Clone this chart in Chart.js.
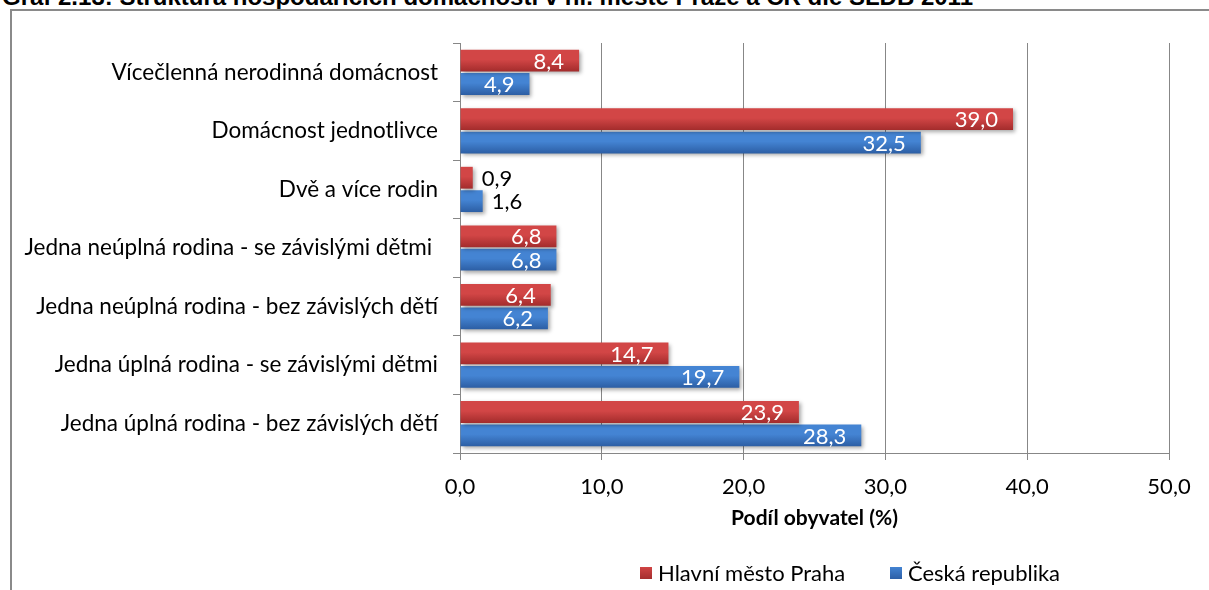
<!DOCTYPE html>
<html>
<head>
<meta charset="utf-8">
<script src="https://cdn.jsdelivr.net/npm/chart.js@4.4.1/dist/chart.umd.min.js"></script>
<style>
  html, body { margin: 0; padding: 0; background: #fff; }
  body { width: 1209px; height: 590px; position: relative; overflow: hidden; font-family: Lato, sans-serif; }
  #title { position: absolute; left: 2px; top: -15px; font: bold 24px/24px "Liberation Sans", Arial, sans-serif; color: #000; white-space: nowrap; }
  #frame { position: absolute; left: 10px; top: 9px; width: 1300px; height: 700px; border-left: 2px solid #8a8a8a; border-top: 2px solid #8a8a8a; }
  #wrap { position: absolute; left: 0; top: 0; width: 1209px; height: 590px; }
  #legend { position: absolute; top: 559px; left: 0; font: 22px Lato, sans-serif; color: #000; }
  .li { position: absolute; white-space: nowrap; display: flex; align-items: center; }
  .sw { width: 12px; height: 12px; display: inline-block; margin-right: 6px; }
</style>
</head>
<body>
<div id="title">Graf 2.13: Struktura hospodařících domácností v hl. městě Praze a ČR dle SLDB 2011</div>
<div id="frame"></div>
<div id="wrap"><canvas id="c" width="1209" height="590"></canvas></div>
<div id="legend">
  <div class="li" style="left:640px;"><span class="sw" style="background:linear-gradient(#d04444,#a52e2e);"></span><span id="l1"></span></div>
  <div class="li" style="left:890px;"><span class="sw" style="background:linear-gradient(#4383d2,#2d5fa6);"></span><span id="l2"></span></div>
</div>
<script>
const categories = [
  "Vícečlenná nerodinná domácnost",
  "Domácnost jednotlivce",
  "Dvě a více rodin",
  "Jedna neúplná rodina - se závislými dětmi ",
  "Jedna neúplná rodina - bez závislých dětí",
  "Jedna úplná rodina - se závislými dětmi",
  "Jedna úplná rodina - bez závislých dětí"
];
const seriesNames = ["Hlavní město Praha", "Česká republika"];
const praha = [8.4, 39.0, 0.9, 6.8, 6.4, 14.7, 23.9];
const cr = [4.9, 32.5, 1.6, 6.8, 6.2, 19.7, 28.3];
const xTicks = [0, 10, 20, 30, 40, 50];
const axisTitle = "Podíl obyvatel (%)";

document.getElementById('l1').textContent = seriesNames[0];
document.getElementById('l2').textContent = seriesNames[1];

const gradColors = [["#d24646", "#a32c2c"], ["#4484d3", "#2c5ea4"]];

const fmt = v => v.toFixed(1).replace('.', ',');

const gradientPlugin = {
  id: 'gradBars',
  beforeDatasetsDraw(chart) {
    const ctx = chart.ctx;
    chart.data.datasets.forEach((ds, di) => {
      const meta = chart.getDatasetMeta(di);
      meta.data.forEach(el => {
        const top = el.y - el.height / 2, bot = el.y + el.height / 2;
        const g = ctx.createLinearGradient(0, top, 0, bot);
        g.addColorStop(0, gradColors[di][0]);
        g.addColorStop(0.45, gradColors[di][0]);
        g.addColorStop(1, gradColors[di][1]);
        el.options.backgroundColor = g;
      });
    });
    ctx.save();
    ctx.shadowColor = 'rgba(0,0,0,0.35)';
    ctx.shadowBlur = 4;
    ctx.shadowOffsetX = 2;
    ctx.shadowOffsetY = 2;
  },
  afterDatasetsDraw(chart) {
    const ctx = chart.ctx;
    ctx.restore();
    ctx.save();
    ctx.font = '22px Lato, sans-serif';
    ctx.textBaseline = 'middle';
    chart.data.datasets.forEach((ds, di) => {
      const meta = chart.getDatasetMeta(di);
      meta.data.forEach((el, i) => {
        const v = ds.data[i];
        const txt = fmt(v);
        if (v < 3) {
          ctx.fillStyle = '#000';
          ctx.textAlign = 'left';
          ctx.fillText(txt, el.x + 9, el.y + 1);
        } else {
          ctx.fillStyle = '#fff';
          ctx.textAlign = 'right';
          ctx.fillText(txt, el.x - 15, el.y + 1);
        }
      });
    });
    ctx.restore();
  }
};

new Chart(document.getElementById('c'), {
  type: 'bar',
  data: {
    labels: categories,
    datasets: [
      { label: seriesNames[0], data: praha, backgroundColor: () => gradColors[0][0], borderWidth: 0 },
      { label: seriesNames[1], data: cr, backgroundColor: () => gradColors[1][0], borderWidth: 0 }
    ]
  },
  options: {
    indexAxis: 'y',
    responsive: false,
    animation: false,
    events: [],
    layout: { padding: { top: 43, right: 40, left: 0, bottom: 55 } },
    datasets: { bar: { categoryPercentage: 0.8, barPercentage: 0.93 } },
    plugins: { legend: { display: false }, tooltip: { enabled: false } },
    scales: {
      x: {
        min: 0, max: 50,
        afterBuildTicks: s => { s.ticks = xTicks.map(v => ({ value: v })); },
        afterFit: s => { s.height = 82; },
        grid: { color: '#878787', lineWidth: 1, tickLength: 7, drawTicks: true },
        border: { color: '#878787', width: 1 },
        ticks: { color: '#000', font: { family: 'Lato', size: 22 }, padding: 14, callback: v => fmt(v), maxRotation: 0 },
        title: { display: true, text: axisTitle, color: '#000', font: { family: 'Lato', size: 21, weight: 'bold' }, padding: { top: 0, bottom: 4 } }
      },
      y: {
        afterFit: s => { s.width = 460; },
        grid: { drawOnChartArea: false, drawTicks: true, tickLength: 7, color: '#878787', offset: true },
        border: { color: '#878787', width: 1 },
        ticks: { color: '#000', font: { family: 'Lato', size: 22.5 }, padding: 15, autoSkip: false }
      }
    }
  },
  plugins: [gradientPlugin]
});
</script>
</body>
</html>
